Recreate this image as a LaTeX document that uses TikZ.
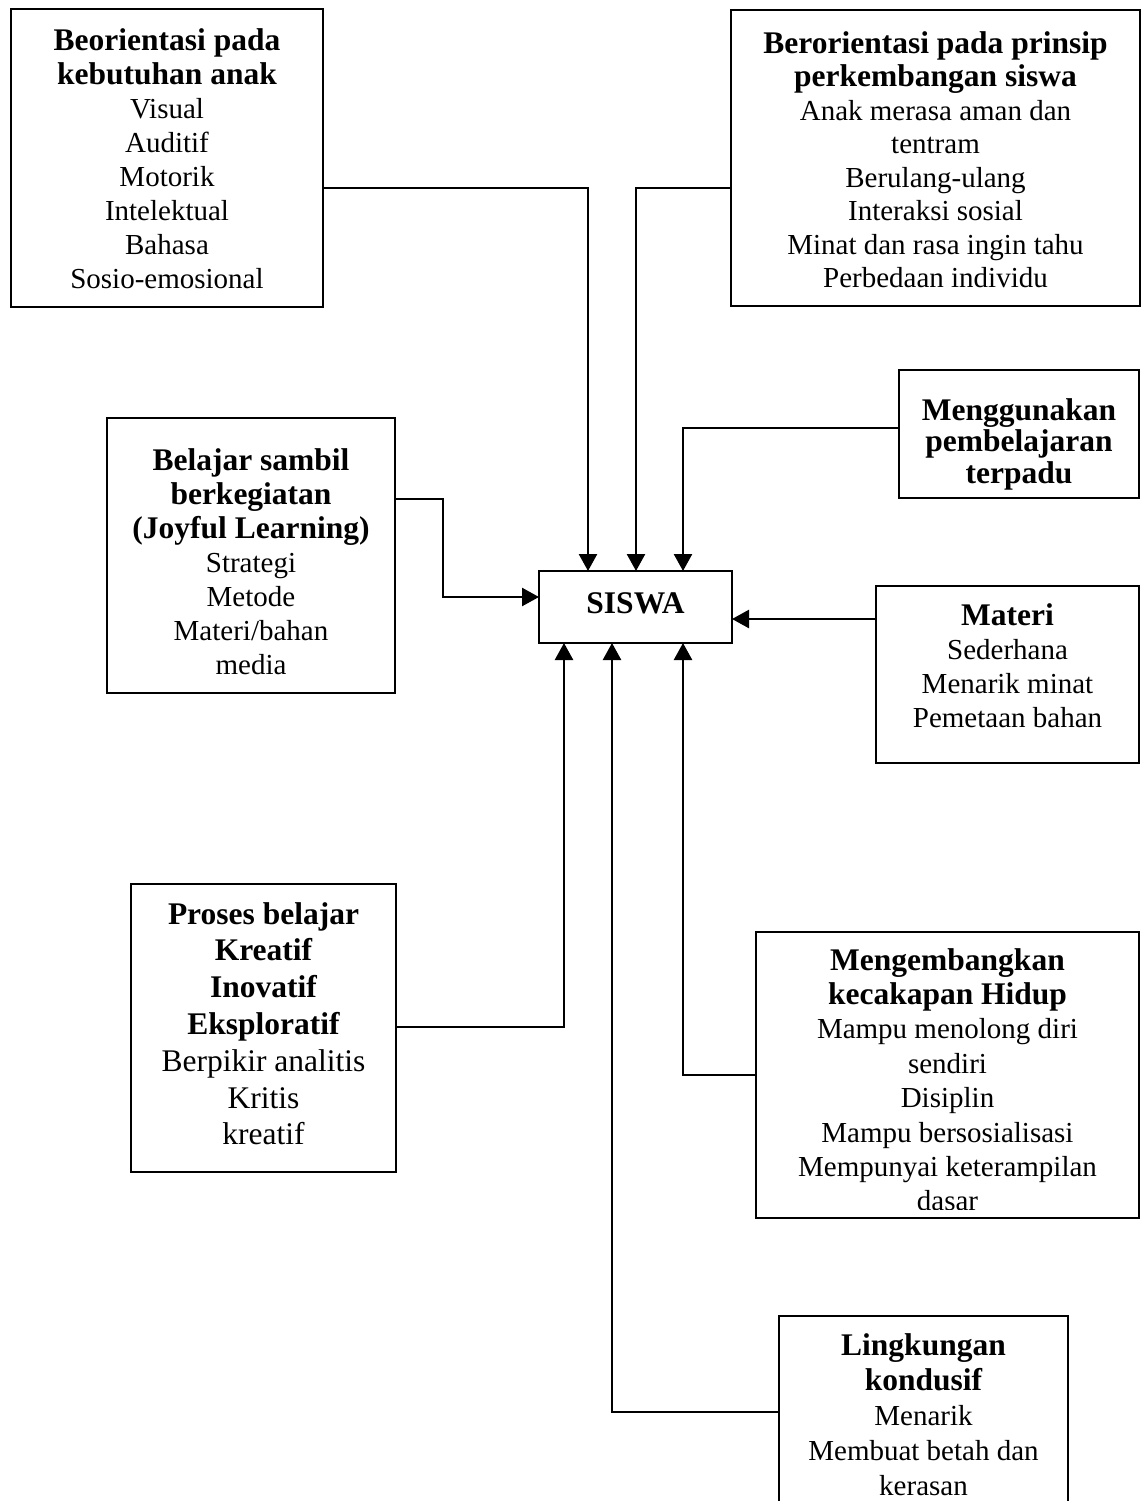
\documentclass[tikz,border=0pt]{standalone}
\usepackage{fontspec}
\setmainfont{Liberation Serif}
\usetikzlibrary{arrows.meta}
\newcommand{\hb}{\bfseries\fontsize{31.5}{34}\selectfont}
\newcommand{\bxbody}[2]{\fontsize{#1}{#2}\selectfont}
\newcommand{\fl}{\rule{0pt}{24pt}}
\tikzset{
  box/.style={draw, line width=2pt, inner sep=0pt, outer sep=0pt, anchor=north west},
  txt/.style={anchor=north, inner sep=0pt, outer sep=0pt, align=center},
  conn/.style={line width=2.5pt, -{Triangle[length=17pt,width=18pt]}},
}
\begin{document}
\begin{tikzpicture}[x=1pt,y=-1pt]
\clip (0,0) rectangle (1143,1501);
\fill[white] (0,0) rectangle (1143,1501);

% boxes
\node[box, minimum width=312pt, minimum height=298pt] (A) at (11,9) {};
\node[box, minimum width=409pt, minimum height=296pt] (B) at (731,10) {};
\node[box, minimum width=240pt, minimum height=128pt] (C) at (899,370) {};
\node[box, minimum width=288pt, minimum height=275pt] (D) at (107,418) {};
\node[box, minimum width=193pt, minimum height=72pt] (S) at (539,571) {};
\node[box, minimum width=263pt, minimum height=177pt] (E) at (876,586) {};
\node[box, minimum width=265pt, minimum height=288pt] (F) at (131,884) {};
\node[box, minimum width=383pt, minimum height=286pt] (G) at (756,932) {};
\node[box, minimum width=289pt, minimum height=230pt] (H) at (779,1316) {};

% texts
\node[txt, font=\bxbody{29}{34}] (At) at ([yshift=-17pt]A.north)
  {\fl{\hb Beorientasi pada}\\{\hb kebutuhan anak}\\Visual\\Auditif\\Motorik\\Intelektual\\Bahasa\\Sosio-emosional};
\node[txt, font=\bxbody{29}{33.5}] (Bt) at ([yshift=-19pt]B.north)
  {\fl{\hb Berorientasi pada prinsip}\\{\hb perkembangan siswa}\\Anak merasa aman dan\\tentram\\Berulang-ulang\\Interaksi sosial\\Minat dan rasa ingin tahu\\Perbedaan individu};
\node[txt, font=\bxbody{29}{31.5}] (Ct) at ([yshift=-26pt]C.north)
  {\fl{\hb Menggunakan}\\{\hb pembelajaran}\\{\hb terpadu}};
\node[txt, font=\bxbody{29}{34}] (Dt) at ([yshift=-28pt]D.north)
  {\fl{\hb Belajar sambil}\\{\hb berkegiatan}\\{\hb (Joyful Learning)}\\Strategi\\Metode\\Materi/bahan\\media};
\node[anchor=base, inner sep=0pt] (St) at (635.5,613) {\hb SISWA};
\node[txt, font=\bxbody{29}{34}] (Et) at ([yshift=-15pt]E.north)
  {\fl{\hb Materi}\\Sederhana\\Menarik minat\\Pemetaan bahan};
\node[txt, font=\bxbody{31.5}{36.8}] (Ft) at ([yshift=-16pt]F.north)
  {\fl{\hb Proses belajar}\\{\hb Kreatif}\\{\hb Inovatif}\\{\hb Eksploratif}\\Berpikir analitis\\Kritis\\kreatif};
\begin{scope}
\clip (756,932) rectangle (1139,1209);
\node[txt, font=\bxbody{29}{34.4}] (Gt) at ([yshift=-14pt]G.north)
  {\fl{\hb Mengembangkan}\\{\hb kecakapan Hidup}\\Mampu menolong diri\\sendiri\\Disiplin\\Mampu bersosialisasi\\Mempunyai keterampilan\\dasar};
\end{scope}
\node[txt, font=\bxbody{29}{35}] (Ht) at ([yshift=-15pt]H.north)
  {\fl{\hb Lingkungan}\\{\hb kondusif}\\Menarik\\Membuat betah dan\\kerasan};

% connectors
\draw[conn] (A.east |- 0,188) -| (S.north -| 588,0);
\draw[conn] (B.west |- 0,188) -| (S.north -| 636,0);
\draw[conn] (C.west |- 0,428) -| (S.north -| 683,0);
\draw[conn] (D.east |- 0,499) -- (443,499) |- (S.west |- 0,597);
\draw[conn] (E.west |- 0,619) -- (S.east |- 0,619);
\draw[conn] (F.east |- 0,1027) -| (S.south -| 564,0);
\draw[conn] (G.west |- 0,1075) -| (S.south -| 683,0);
\draw[conn] (H.west |- 0,1412) -| (S.south -| 612,0);
\end{tikzpicture}
\end{document}
